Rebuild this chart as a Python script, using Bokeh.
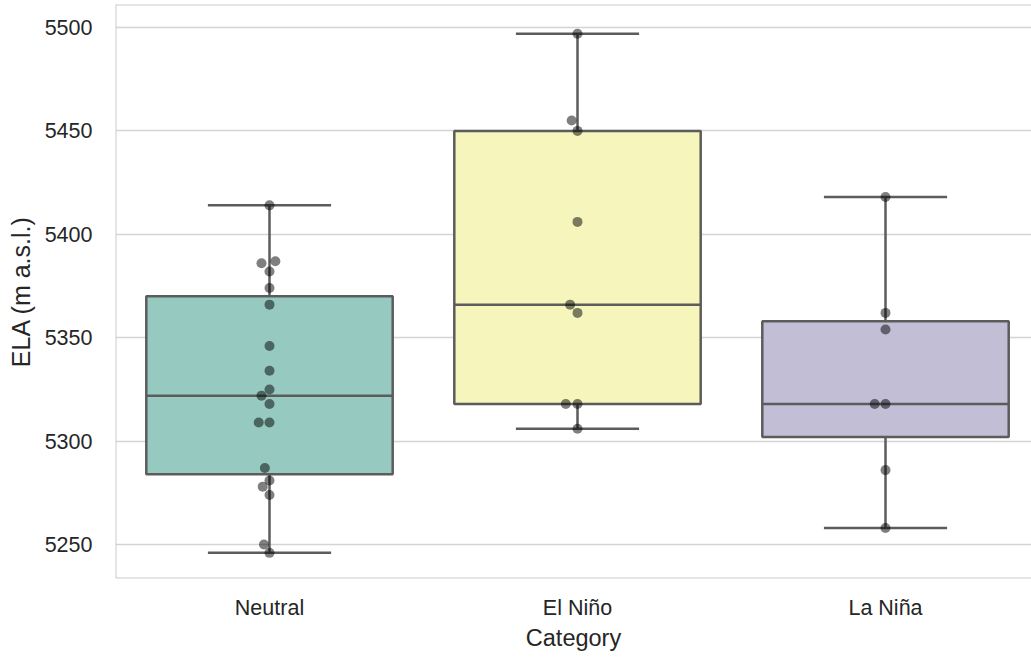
import numpy as np
from bokeh.plotting import figure
from bokeh.models import Range1d, FixedTicker, ColumnDataSource, Span
from bokeh.embed import file_html
from bokeh.resources import INLINE

# ---- data ----
categories = ["Neutral", "El Niño", "La Niña"]
neutral = [5414, 5386, 5387, 5382, 5374, 5366, 5346, 5334, 5325, 5322,
           5318, 5309, 5309, 5287, 5281, 5278, 5274, 5250, 5246]
neutral_jitter = [0, -0.026, 0.019, 0, 0, 0, 0, 0, 0, -0.026,
                  0, -0.035, 0, -0.015, 0, -0.022, 0, -0.018, 0]
el_nino = [5497, 5455, 5450, 5406, 5366, 5362, 5318, 5318, 5306]
el_nino_jitter = [0, -0.019, 0, 0, -0.024, 0, -0.038, 0, 0]
la_nina = [5418, 5362, 5354, 5318, 5318, 5286, 5258]
la_nina_jitter = [0, 0, 0, -0.035, 0, 0, 0]
box_colors = ["#96cac1", "#f5f5bc", "#c1bed6"]
y_ticks = [5250, 5300, 5350, 5400, 5450, 5500]

series = [neutral, el_nino, la_nina]
jitters = [neutral_jitter, el_nino_jitter, la_nina_jitter]

FONT = "Liberation Sans"
LINE = "#5c5c5c"
SPINE = "#cccccc"

p = figure(width=1031, height=657, output_backend="svg", toolbar_location=None,
           x_range=Range1d(-0.5, 2.474), y_range=Range1d(5233.6, 5511.1),
           min_border_left=115, min_border_right=0, min_border_top=4,
           min_border_bottom=79)

p.background_fill_color = "white"
p.outline_line_color = None
p.xgrid.grid_line_color = None
p.ygrid.grid_line_color = "#d4d4d4"
p.ygrid.grid_line_width = 1.5

# spines (left, top, bottom)
p.add_layout(Span(location=p.x_range.start, dimension="height",
                  line_color=SPINE, line_width=2))
p.add_layout(Span(location=p.y_range.start, dimension="width",
                  line_color=SPINE, line_width=2))
p.add_layout(Span(location=p.y_range.end, dimension="width",
                  line_color=SPINE, line_width=2))

# box statistics
pos, q1s, q2s, q3s, lows, highs = [], [], [], [], [], []
for i, vals in enumerate(series):
    a = np.asarray(vals, dtype=float)
    q1, q2, q3 = np.percentile(a, [25, 50, 75])
    iqr = q3 - q1
    lo = a[a >= q1 - 1.5 * iqr].min()
    hi = a[a <= q3 + 1.5 * iqr].max()
    pos.append(i); q1s.append(q1); q2s.append(q2); q3s.append(q3)
    lows.append(lo); highs.append(hi)

src = ColumnDataSource(dict(x=pos, q1=q1s, q2=q2s, q3=q3s, lo=lows, hi=highs,
                            color=box_colors,
                            xl=[x - 0.4 for x in pos], xr=[x + 0.4 for x in pos],
                            cl=[x - 0.2 for x in pos], cr=[x + 0.2 for x in pos]))

lw = 2.5
# whiskers
p.segment(x0="x", y0="q3", x1="x", y1="hi", source=src, line_color=LINE, line_width=lw)
p.segment(x0="x", y0="q1", x1="x", y1="lo", source=src, line_color=LINE, line_width=lw)
# caps
p.segment(x0="cl", y0="hi", x1="cr", y1="hi", source=src, line_color=LINE, line_width=lw)
p.segment(x0="cl", y0="lo", x1="cr", y1="lo", source=src, line_color=LINE, line_width=lw)
# boxes
p.quad(left="xl", right="xr", bottom="q1", top="q3", source=src,
       fill_color="color", line_color=LINE, line_width=lw)
# medians
p.segment(x0="xl", y0="q2", x1="xr", y1="q2", source=src, line_color=LINE, line_width=lw)

# strip points
px, py = [], []
for i, (vals, jit) in enumerate(zip(series, jitters)):
    for v, j in zip(vals, jit):
        px.append(i + j)
        py.append(v)
p.scatter(px, py, size=10, fill_color="black", fill_alpha=0.5, line_color=None)

# axes
p.xaxis.ticker = FixedTicker(ticks=list(range(len(categories))))
p.xaxis.major_label_overrides = {i: c for i, c in enumerate(categories)}
p.yaxis.ticker = FixedTicker(ticks=y_ticks)
p.xaxis.axis_label = "Category"
p.yaxis.axis_label = "ELA (m a.s.l.)"
for ax in (p.xaxis, p.yaxis):
    ax.axis_line_color = None
    ax.major_tick_line_color = None
    ax.minor_tick_line_color = None
    ax.major_label_text_font = FONT
    ax.major_label_text_font_size = "21.5px"
    ax.major_label_text_color = "#262626"
    ax.axis_label_text_font = FONT
    ax.axis_label_text_font_style = "normal"
    ax.axis_label_text_color = "#262626"
p.xaxis.axis_label_text_font_size = "23.5px"
p.yaxis.axis_label_text_font_size = "25px"
p.xaxis.major_label_standoff = 11
p.xaxis.axis_label_standoff = 2
p.yaxis.major_label_standoff = 17
p.yaxis.axis_label_standoff = 7

open("out.html", "w").write(file_html(p, INLINE))
